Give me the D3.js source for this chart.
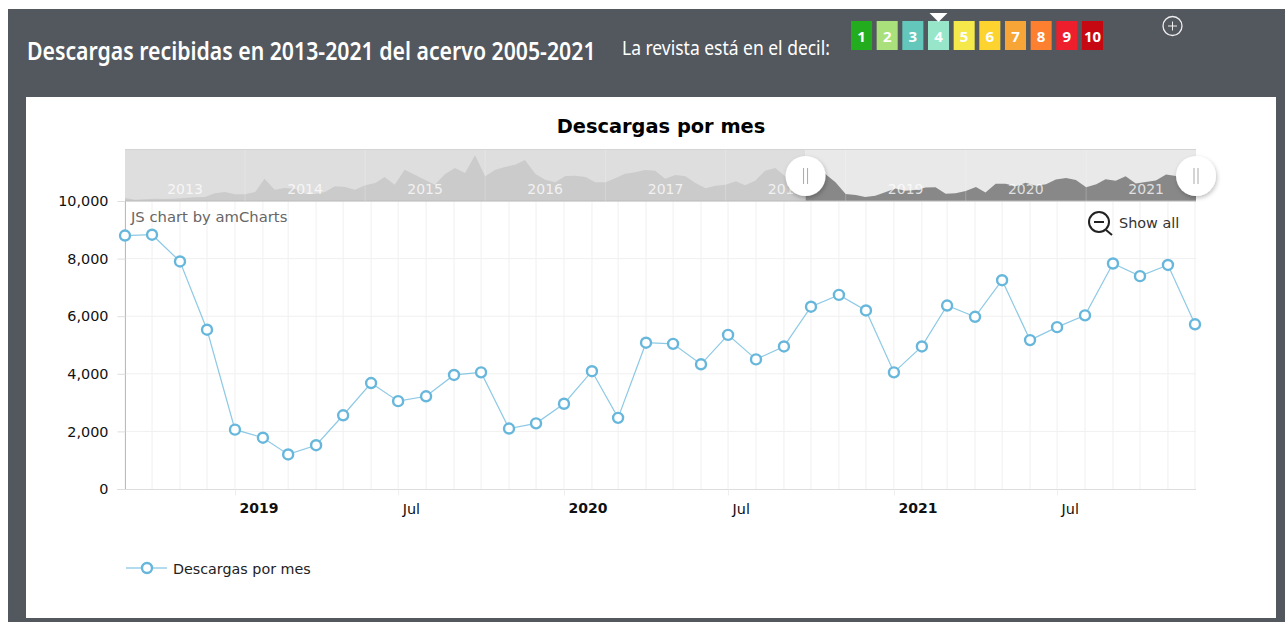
<!DOCTYPE html>
<html lang="es">
<head>
   <meta charset="UTF-8">
   <title>Descargas por mes</title>
   <script src="https://cdn.jsdelivr.net/npm/d3@7"></script>
   <style>
      body { margin: 0; background: #fff; overflow: hidden; }
      svg { display: block; }
      text { font-family: 'DejaVu Sans', sans-serif; }
      .head { font-family: 'Noto Sans', sans-serif; fill: #fff; }
      .axis text { font-size: 14.4px; fill: #111; }
      .axis .year { font-weight: bold; font-size: 14px; }
   </style>
</head>
<body>
   <div id="chart"></div>
   <script>
      // Jan 2013 - Aug 2018, only visible in the scrollbar
      const olderDownloads = [
         880, 390, 490, 690, 590, 690, 880, 1080, 1180, 2250, 2650, 1960,
         1960, 2650, 6570, 3330, 3830, 3630, 2160, 2060, 2650, 4310, 4120, 3330,
         4610, 5300, 7050, 4800, 9210, 7740, 6280, 4800, 7940, 9710, 8240, 13430,
         7260, 9210, 10000, 10690, 12060, 8040, 6280, 5490, 7350, 7450, 7050, 5490,
         5490, 6760, 8040, 8430, 9110, 8920, 6570, 7650, 7260, 5300, 3730, 4510,
         4800, 5780, 4610, 5980, 8920, 9710, 7260, 6280
      ]
      // Sep 2018 - Dec 2021, the selected range
      const downloads = [
         8800, 8830, 7900, 5530,
         2060, 1780, 1200, 1520, 2560, 3680, 3050, 3220, 3960, 4050, 2100, 2280,
         2960, 4090, 2470, 5080, 5040, 4330, 5350, 4500, 4950, 6330, 6740, 6200,
         4050, 4950, 6370, 5980, 7250, 5170, 5620, 6030, 7830, 7390, 7780, 5720
      ]
      const yTicks = [0, 2000, 4000, 6000, 8000, 10000]
      const xLabels = [
         [new Date(2019, 0, 1), '2019'], [new Date(2019, 6, 1), 'Jul'],
         [new Date(2020, 0, 1), '2020'], [new Date(2020, 6, 1), 'Jul'],
         [new Date(2021, 0, 1), '2021'], [new Date(2021, 6, 1), 'Jul']
      ]
      const scrollYears = [2013, 2014, 2015, 2016, 2017, 2018, 2019, 2020, 2021]
      const deciles = ['1', '2', '3', '4', '5', '6', '7', '8', '9', '10']
      const decileColors = ['#22ac1e', '#a9e07b', '#63c8bb', '#98e6c9', '#f4e84a', '#fdd42f', '#f8a537', '#fd8030', '#ee1f2d', '#c60812']
      const currentDecile = '4'
      const titleText = 'Descargas recibidas en 2013-2021 del acervo 2005-2021'
      const decilText = 'La revista está en el decil:'
      const chartTitle = 'Descargas por mes'

      const BLUE = '#67b7dc'
      const svg = d3.select('#chart').append('svg').attr('width', 1285).attr('height', 622)

      // panel + card
      svg.append('rect').attr('x', 8).attr('y', 9).attr('width', 1277).attr('height', 613).attr('fill', '#53575e')
      svg.append('rect').attr('x', 26).attr('y', 97).attr('width', 1250).attr('height', 521).attr('fill', '#fff')

      // header, squeezed horizontally to the condensed look of the original font
      function headText(str, left, base, size, weight, width) {
         const t = svg.append('text').attr('class', 'head')
            .attr('font-size', size).attr('font-weight', weight)
            .text(str)
         const k = width / t.node().getComputedTextLength()
         t.attr('transform', `translate(${left}, ${base}) scale(${k}, 1)`)
      }
      headText(titleText, 27, 60, 25, 600, 569)
      headText(decilText, 622, 55, 19.5, 400, 208)

      const decileX = d3.scaleBand().domain(deciles).range([851, 1103]).paddingInner(0.18).paddingOuter(0)
      const chips = svg.append('g').selectAll('g').data(deciles).enter().append('g')
         .attr('transform', d => `translate(${decileX(d)}, 21)`)
      chips.append('rect')
         .attr('width', decileX.bandwidth()).attr('height', 29)
         .attr('fill', (_, i) => decileColors[i])
      chips.append('text').attr('class', 'head')
         .attr('x', decileX.bandwidth() / 2).attr('y', 20.5)
         .attr('text-anchor', 'middle').attr('font-size', 15).attr('font-weight', 700)
         .text(d => d)
      const markX = decileX(currentDecile) + decileX.bandwidth() / 2
      svg.append('path').attr('d', `M${markX - 9},13 L${markX + 9},13 L${markX},22 Z`).attr('fill', '#fff')

      const plus = svg.append('g').attr('transform', 'translate(1172.5, 26)').attr('fill', 'none').attr('stroke', '#eee')
      plus.append('circle').attr('r', 9.5).attr('stroke-width', 1.3)
      plus.append('path').attr('d', 'M-4.5,0H4.5M0,-4.5V4.5').attr('stroke-width', 1)

      svg.append('text').attr('x', 661).attr('y', 132.5)
         .attr('text-anchor', 'middle').attr('font-size', 19.4).attr('font-weight', 'bold').attr('fill', '#000')
         .text(chartTitle)

      // scales
      const months = d3.timeMonth.range(new Date(2018, 8, 1), new Date(2022, 0, 1))
      const series = downloads.map((v, i) => ({ date: months[i], value: v }))
      const x = d3.scaleTime().domain([months[0], months[months.length - 1]]).range([125, 1195])
      const y = d3.scaleLinear().domain([0, 10000]).range([489, 201])

      // grid
      const grid = svg.append('g')
      grid.selectAll('line.v').data(months).enter().append('line')
         .attr('x1', d => x(d)).attr('x2', d => x(d)).attr('y1', 201).attr('y2', 489)
         .attr('stroke', '#f0f0f0')
      grid.selectAll('line.h').data(yTicks.slice(1)).enter().append('line')
         .attr('x1', 125).attr('x2', 1196).attr('y1', d => y(d)).attr('y2', d => y(d))
         .attr('stroke', '#f0f0f0')

      // axes
      const yAxis = svg.append('g').attr('class', 'axis')
         .attr('transform', 'translate(125.5, 0)')
         .call(d3.axisLeft(y).tickValues(yTicks).tickFormat(d3.format(',')).tickSize(8).tickPadding(9))
      yAxis.select('.domain').attr('stroke', '#bbb').attr('d', 'M0,201V489')
      yAxis.selectAll('.tick line').attr('stroke', '#ddd')
      yAxis.selectAll('text').attr('font-family', null).attr('font-size', null)

      const labelOf = new Map(xLabels.map(d => [+d[0], d[1]]))
      const xAxis = svg.append('g').attr('class', 'axis')
         .attr('transform', 'translate(0, 489.5)')
         .call(d3.axisBottom(x).tickValues(xLabels.map(d => d[0])).tickFormat(d => labelOf.get(+d)).tickSize(6).tickPadding(8))
      xAxis.select('.domain').attr('stroke', '#ddd').attr('d', 'M117,0H1196')
      xAxis.selectAll('.tick line').attr('stroke', '#eee')
      xAxis.selectAll('text')
         .attr('font-family', null).attr('font-size', null)
         .attr('text-anchor', 'start').attr('x', 4)
         .classed('year', (_, i) => i % 2 == 0)

      // main line
      const line = d3.line().x(d => x(d.date)).y(d => y(d.value))
      svg.append('path').datum(series).attr('d', line)
         .attr('fill', 'none').attr('stroke', BLUE).attr('stroke-opacity', 0.75).attr('stroke-width', 1.2)
      svg.selectAll('circle.point').data(series).enter().append('circle')
         .attr('class', 'point')
         .attr('cx', d => x(d.date)).attr('cy', d => y(d.value)).attr('r', 5)
         .attr('fill', '#fff').attr('stroke', BLUE).attr('stroke-width', 2.4)

      // scrollbar
      const allValues = olderDownloads.concat(downloads)
      const allMonths = d3.timeMonth.range(new Date(2013, 0, 1), new Date(2022, 0, 1))
      const sx = d3.scaleTime().domain([allMonths[0], allMonths[allMonths.length - 1]]).range([125, 1196])
      const sy = d3.scaleLinear().domain([0, 15300]).range([201, 149])
      const selStart = sx(months[0])
      const area = d3.area().x((_, i) => sx(allMonths[i])).y0(201).y1(d => sy(d))

      const defs = svg.append('defs')
      defs.append('clipPath').attr('id', 'clip-left').append('rect')
         .attr('x', 125).attr('y', 149).attr('width', selStart - 125).attr('height', 52)
      defs.append('clipPath').attr('id', 'clip-right').append('rect')
         .attr('x', selStart).attr('y', 149).attr('width', 1196 - selStart).attr('height', 52)
      const shadow = defs.append('filter').attr('id', 'shadow').attr('x', '-30%').attr('y', '-30%').attr('width', '160%').attr('height', '160%')
      shadow.append('feDropShadow').attr('dx', 1).attr('dy', 2).attr('stdDeviation', 2).attr('flood-color', '#000').attr('flood-opacity', 0.25)

      const left = svg.append('g').attr('clip-path', 'url(#clip-left)')
      left.append('rect').attr('x', 125).attr('y', 149).attr('width', 1071).attr('height', 52).attr('fill', '#dedede')
      left.append('path').datum(allValues).attr('d', area).attr('fill', '#cbcbcb')
      const right = svg.append('g').attr('clip-path', 'url(#clip-right)')
      right.append('rect').attr('x', 125).attr('y', 149).attr('width', 1071).attr('height', 52).attr('fill', '#e9e9e9')
      right.append('path').datum(allValues).attr('d', area).attr('fill', '#888')

      svg.append('line').attr('x1', 125).attr('x2', 1196).attr('y1', 149.5).attr('y2', 149.5).attr('stroke', '#d4d4d4')
      svg.append('line').attr('x1', 125).attr('x2', 1196).attr('y1', 201).attr('y2', 201).attr('stroke', '#bbb')

      const yearDate = d => new Date(d, 0, 1)
      svg.selectAll('line.scroll-sep').data(scrollYears.slice(1)).enter().append('line')
         .attr('class', 'scroll-sep')
         .attr('x1', d => sx(yearDate(d))).attr('x2', d => sx(yearDate(d)))
         .attr('y1', 150).attr('y2', 201)
         .attr('stroke', '#fff').attr('stroke-opacity', 0.22)
      svg.selectAll('text.scroll-year').data(scrollYears).enter().append('text')
         .attr('class', 'scroll-year')
         .attr('x', d => sx(yearDate(d)) + 60).attr('y', 194)
         .attr('text-anchor', 'middle').attr('font-size', 14)
         .attr('fill', '#fff').attr('fill-opacity', 0.75)
         .text(d => d)

      const handles = svg.selectAll('g.handle').data([selStart, 1196]).enter().append('g')
         .attr('class', 'handle')
         .attr('transform', d => `translate(${d}, 176)`)
      handles.append('circle').attr('r', 20).attr('fill', '#fff').attr('filter', 'url(#shadow)')
      handles.append('path').attr('d', 'M-2,-8V8M2,-8V8').attr('stroke', '#aaa').attr('fill', 'none')

      // amCharts credit and zoom out
      svg.append('text').attr('x', 131).attr('y', 222).attr('font-size', 14.8).attr('fill', '#666')
         .text('JS chart by amCharts')
      const zoomOut = svg.append('g').attr('transform', 'translate(1099, 222)').attr('fill', 'none').attr('stroke', '#222').attr('stroke-width', 2)
      zoomOut.append('circle').attr('r', 10)
      zoomOut.append('path').attr('d', 'M-5,0H5')
      zoomOut.append('path').attr('d', 'M7,8L13,13')
      svg.append('text').attr('x', 1119).attr('y', 228).attr('font-size', 14.4).attr('fill', '#333').text('Show all')

      // legend
      svg.append('line').attr('x1', 126).attr('x2', 167).attr('y1', 568).attr('y2', 568).attr('stroke', BLUE)
      svg.append('circle').attr('cx', 147).attr('cy', 568).attr('r', 5)
         .attr('fill', '#fff').attr('stroke', BLUE).attr('stroke-width', 2.4)
      svg.append('text').attr('x', 173).attr('y', 574).attr('font-size', 14.3).attr('fill', '#222').text(chartTitle)
   </script>
</body>
</html>
